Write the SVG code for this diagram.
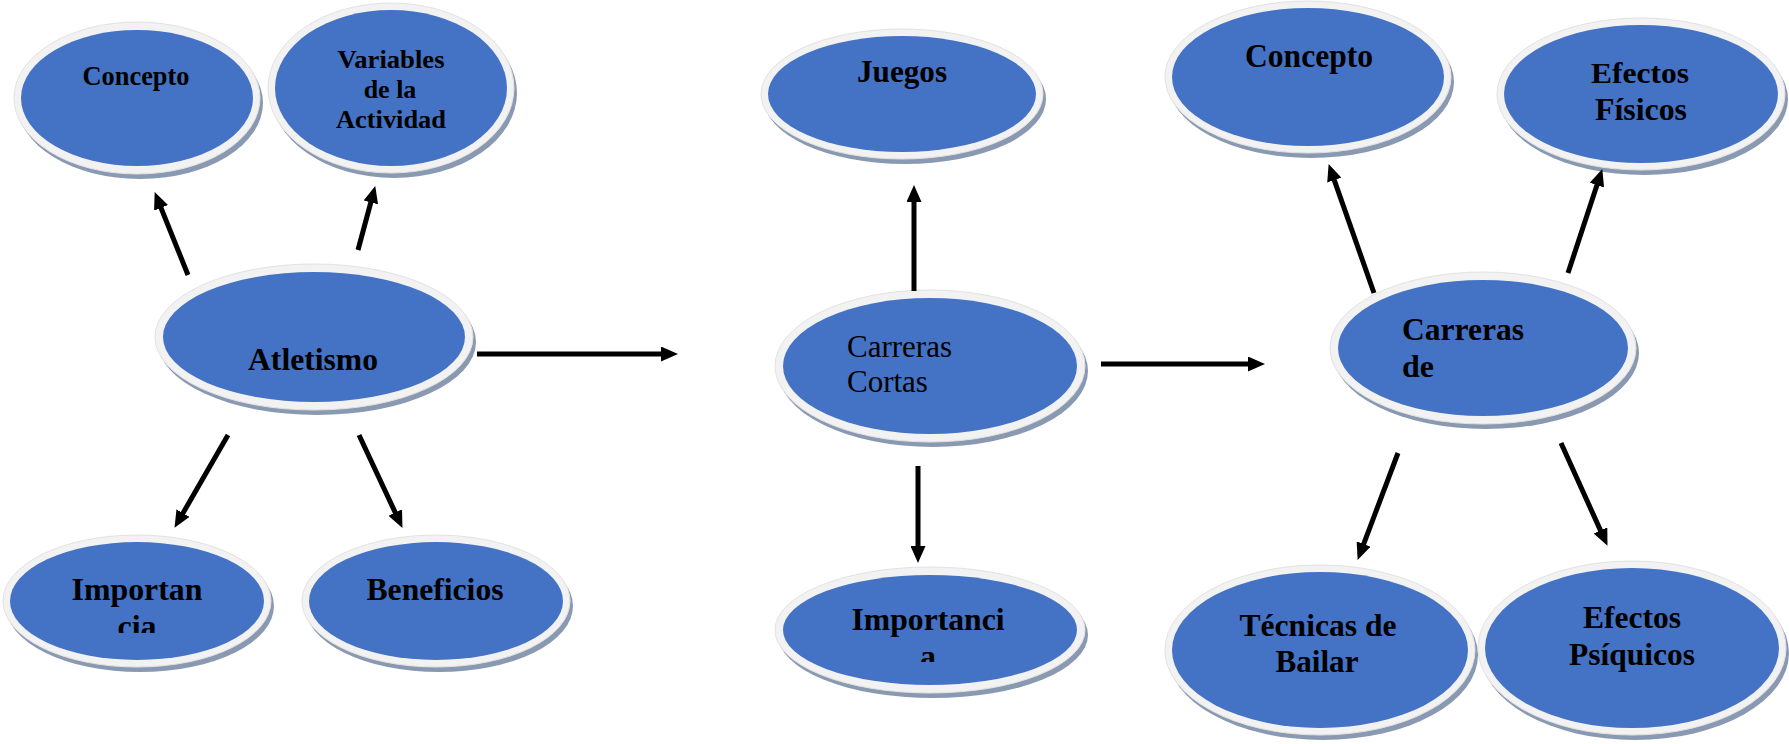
<svg xmlns="http://www.w3.org/2000/svg" width="1789" height="744" viewBox="0 0 1789 744">
<style>
.sh{fill:#8A99B2}
.ring{fill:#F2F2F2;stroke:#E2E2E2;stroke-width:1}
.fill{fill:#4472C4}
.t{font-family:"Liberation Serif","Times New Roman",serif;font-weight:bold;fill:#000}
.r{font-family:"Liberation Serif","Times New Roman",serif;font-weight:normal;fill:#000}
.c{text-anchor:middle}
.conn line{stroke:#000;stroke-width:5;fill:none}
</style>
<defs>
<marker id="ah" markerUnits="userSpaceOnUse" markerWidth="17" markerHeight="15" viewBox="0 0 17 15" refX="3" refY="7.5" orient="auto">
<path d="M0,0 L17,7.5 L0,15 z" fill="#000"/>
</marker>
<clipPath id="clipL"><rect x="0" y="0" width="400" height="633"/></clipPath>
<clipPath id="clipM"><rect x="700" y="0" width="400" height="662"/></clipPath>
</defs>

<g id="n-concepto1">
<ellipse class="sh" cx="140" cy="103" rx="123" ry="76"/>
<ellipse class="ring" cx="137" cy="98" rx="123" ry="76"/>
<ellipse class="fill" cx="137" cy="98" rx="116" ry="68"/>
<text class="t c" x="136" y="85" font-size="26.5" textLength="107" lengthAdjust="spacingAndGlyphs">Concepto</text>
</g>

<g id="n-variables">
<ellipse class="sh" cx="394" cy="93" rx="123" ry="85"/>
<ellipse class="ring" cx="391" cy="88" rx="123" ry="85"/>
<ellipse class="fill" cx="391" cy="88" rx="116" ry="78"/>
<text class="t c" x="391" y="68" font-size="26" textLength="107" lengthAdjust="spacingAndGlyphs">Variables</text>
<text class="t c" x="390" y="98" font-size="26">de la</text>
<text class="t c" x="391" y="128" font-size="26" textLength="110" lengthAdjust="spacingAndGlyphs">Actividad</text>
</g>

<g id="n-atletismo">
<ellipse class="sh" cx="317" cy="342" rx="159" ry="73"/>
<ellipse class="ring" cx="314" cy="337" rx="159" ry="73"/>
<ellipse class="fill" cx="314" cy="337" rx="151" ry="65"/>
<text class="t c" x="313" y="370" font-size="32" textLength="130" lengthAdjust="spacingAndGlyphs">Atletismo</text>
</g>

<g id="n-importancia1">
<ellipse class="sh" cx="140" cy="606" rx="134" ry="66"/>
<ellipse class="ring" cx="137" cy="601" rx="134" ry="66"/>
<ellipse class="fill" cx="137" cy="601" rx="127" ry="59"/>
<text class="t c" x="137" y="600" font-size="32" textLength="131" lengthAdjust="spacingAndGlyphs">Importan</text>
<g clip-path="url(#clipL)"><text class="t c" x="137" y="637" font-size="32">cia</text></g>
</g>

<g id="n-beneficios">
<ellipse class="sh" cx="439" cy="606" rx="134" ry="66"/>
<ellipse class="ring" cx="436" cy="601" rx="134" ry="66"/>
<ellipse class="fill" cx="436" cy="601" rx="127" ry="59"/>
<text class="t c" x="435" y="600" font-size="32" textLength="137" lengthAdjust="spacingAndGlyphs">Beneficios</text>
</g>

<g id="n-juegos">
<ellipse class="sh" cx="905" cy="99" rx="141" ry="65"/>
<ellipse class="ring" cx="902" cy="94" rx="141" ry="65"/>
<ellipse class="fill" cx="902" cy="94" rx="134" ry="58"/>
<text class="t c" x="902" y="82" font-size="32" textLength="90" lengthAdjust="spacingAndGlyphs">Juegos</text>
</g>

<g id="n-carreras-cortas">
<ellipse class="sh" cx="933" cy="371" rx="155" ry="76"/>
<ellipse class="ring" cx="930" cy="366" rx="155" ry="76"/>
<ellipse class="fill" cx="930" cy="366" rx="147" ry="68"/>
<text class="r" x="847" y="357" font-size="31">Carreras</text>
<text class="r" x="847" y="392" font-size="31">Cortas</text>
</g>

<g id="n-importancia2">
<ellipse class="sh" cx="933" cy="635" rx="155" ry="63"/>
<ellipse class="ring" cx="930" cy="630" rx="155" ry="63"/>
<ellipse class="fill" cx="930" cy="630" rx="147" ry="55"/>
<text class="t c" x="928" y="630" font-size="32" textLength="153" lengthAdjust="spacingAndGlyphs">Importanci</text>
<g clip-path="url(#clipM)"><text class="t c" x="928" y="667" font-size="32">a</text></g>
</g>

<g id="n-concepto2">
<ellipse class="sh" cx="1311" cy="82" rx="143" ry="76"/>
<ellipse class="ring" cx="1308" cy="77" rx="143" ry="76"/>
<ellipse class="fill" cx="1308" cy="77" rx="136" ry="69"/>
<text class="t c" x="1309" y="67" font-size="33" textLength="128" lengthAdjust="spacingAndGlyphs">Concepto</text>
</g>

<g id="n-efectos-fisicos">
<ellipse class="sh" cx="1644" cy="99" rx="144" ry="76"/>
<ellipse class="ring" cx="1641" cy="94" rx="144" ry="76"/>
<ellipse class="fill" cx="1641" cy="94" rx="137" ry="69"/>
<text class="t c" x="1640" y="83" font-size="30" textLength="98" lengthAdjust="spacingAndGlyphs">Efectos</text>
<text class="t c" x="1641" y="120" font-size="31" textLength="92" lengthAdjust="spacingAndGlyphs">Físicos</text>
</g>

<g id="n-carreras-de">
<ellipse class="sh" cx="1486" cy="353" rx="153" ry="76"/>
<ellipse class="ring" cx="1483" cy="348" rx="153" ry="76"/>
<ellipse class="fill" cx="1483" cy="348" rx="145" ry="68"/>
<text class="t" x="1402" y="340" font-size="32" textLength="122" lengthAdjust="spacingAndGlyphs">Carreras</text>
<text class="t" x="1402" y="377" font-size="32">de</text>
</g>

<g id="n-tecnicas">
<ellipse class="sh" cx="1323" cy="655" rx="155" ry="85"/>
<ellipse class="ring" cx="1320" cy="650" rx="155" ry="85"/>
<ellipse class="fill" cx="1320" cy="650" rx="148" ry="78"/>
<text class="t c" x="1318" y="636" font-size="31" textLength="157" lengthAdjust="spacingAndGlyphs">Técnicas de</text>
<text class="t c" x="1317" y="672" font-size="31" textLength="83" lengthAdjust="spacingAndGlyphs">Bailar</text>
</g>

<g id="n-efectos-psiquicos">
<ellipse class="sh" cx="1635" cy="653" rx="154" ry="87"/>
<ellipse class="ring" cx="1632" cy="648" rx="154" ry="87"/>
<ellipse class="fill" cx="1632" cy="648" rx="147" ry="80"/>
<text class="t c" x="1632" y="628" font-size="31" textLength="98" lengthAdjust="spacingAndGlyphs">Efectos</text>
<text class="t c" x="1632" y="665" font-size="31" textLength="126" lengthAdjust="spacingAndGlyphs">Psíquicos</text>
</g>

<g id="connectors" class="conn">
<line x1="188" y1="275" x2="159.9" y2="205.1" marker-end="url(#ah)"/>
<line x1="358" y1="250" x2="371.6" y2="199.5" marker-end="url(#ah)"/>
<line x1="228" y1="435" x2="181.5" y2="515.7" marker-end="url(#ah)"/>
<line x1="359" y1="435" x2="396.5" y2="515.2" marker-end="url(#ah)"/>
<line x1="477" y1="354" x2="664" y2="354" marker-end="url(#ah)"/>
<line x1="914" y1="291" x2="914" y2="199" marker-end="url(#ah)"/>
<line x1="918" y1="466" x2="918" y2="549" marker-end="url(#ah)"/>
<line x1="1101" y1="364" x2="1251" y2="364" marker-end="url(#ah)"/>
<line x1="1374" y1="293" x2="1333.3" y2="177.3" marker-end="url(#ah)"/>
<line x1="1568" y1="273" x2="1597.9" y2="182.3" marker-end="url(#ah)"/>
<line x1="1398" y1="453" x2="1362.6" y2="546.8" marker-end="url(#ah)"/>
<line x1="1561" y1="443" x2="1601.7" y2="533.1" marker-end="url(#ah)"/>
</g>
</svg>
